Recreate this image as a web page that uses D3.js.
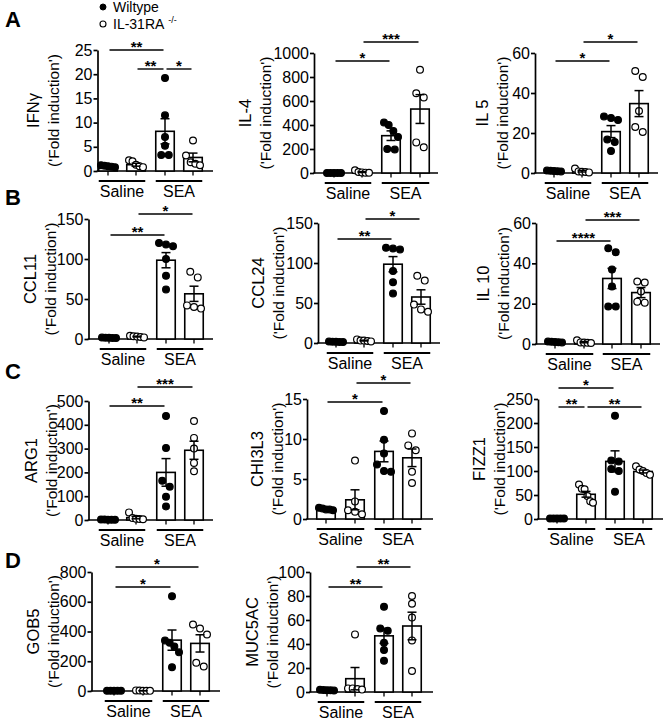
<!DOCTYPE html>
<html><head><meta charset="utf-8">
<script src="https://cdn.jsdelivr.net/npm/d3@7"></script>
<style>body{margin:0;background:#fff} text{font-family:"Liberation Sans",Arial,sans-serif;fill:#000}</style>
</head><body><svg id="c" width="667" height="720"></svg>
<script>
// ---------- DATA ----------
const groups = ["Saline", "SEA"];
const series = ["Wiltype", "IL-31RA"];
const yUnit = "('Fold induction')";

const IFNG_points = [[1.0,1.2,0.9,1.1,0.8],[2.2,2.0,1.3,0.8,1.0],[19.2,11.5,7.0,5.2,3.3,3.3],[6.3,3.2,1.8,1.5,1.2]];
const IFNG_mean = [1.0, 1.3, 8.2, 2.8];
const IFNG_sem = [0.1, 0.3, 2.6, 0.9];
const IFNG_ticks = [0,5,10,15,20,25];
const IFNG_sig = [[0,2,"**"],[1,2,"**"],[2,3,"*"]];

const IL4_points = [[1,1,1,1,1],[3,5,22,8,2],[420,400,350,300,200,195],[860,665,630,255,215]];
const IL4_mean = [1, 8, 311, 533];
const IL4_sem = [0.2, 4, 40, 120];
const IL4_ticks = [0,200,400,600,800,1000];
const IL4_sig = [[0,2,"*"],[1,3,"***"]];

const IL5_points = [[0.8,1,1.2,0.9,1.1],[2.2,0.5,0.6,0.3,0.8],[28.3,27.5,26.5,16.7,15.5,11],[51,48,31,23,20.5]];
const IL5_mean = [1, 0.9, 20.7, 34.7];
const IL5_sem = [0.1, 0.4, 3, 6.5];
const IL5_ticks = [0,20,40,60];
const IL5_sig = [[0,2,"*"],[1,3,"*"]];

const CCL11_points = [[1.5,1.8,1.2,1.6,1.4],[3,4,2.5,2,3.5],[120,118,116,100,79,62],[84,77,42,40,38]];
const CCL11_mean = [1.5, 3, 98.5, 56.5];
const CCL11_sem = [0.2, 0.5, 9.5, 9.5];
const CCL11_ticks = [0,50,100,150];
const CCL11_sig = [[0,2,"**"],[1,3,"*"]];

const CCL24_points = [[1.5,1.8,1.2,1.6,1.4],[3,4.5,2.5,2,3],[119,118,117,90,76,62],[84,78,48,42,39]];
const CCL24_mean = [1.5, 3, 98.5, 57.5];
const CCL24_sem = [0.2, 0.5, 9.5, 9];
const CCL24_ticks = [0,50,100,150];
const CCL24_sig = [[0,2,"**"],[1,3,"*"]];

const IL10_points = [[1,1.2,0.8,1.1,0.9],[1.8,0.8,0.5,0.6,0.7],[47.5,45.5,37,28.5,18.6,18.6],[31,30.5,26,21,20.5]];
const IL10_mean = [1, 0.9, 32.5, 25.5];
const IL10_sem = [0.1, 0.3, 5, 2.5];
const IL10_ticks = [0,20,40,60];
const IL10_sig = [[0,2,"****"],[1,3,"***"]];

const ARG1_points = [[1,2,1,2,1],[32,8,5,4,3],[437,303,165,140,98,57],[416,345,300,240,205]];
const ARG1_mean = [1.5, 10, 200, 293];
const ARG1_sem = [0.3, 5, 58, 38];
const ARG1_ticks = [0,100,200,300,400,500];
const ARG1_sig = [[0,2,"**"],[1,3,"***"]];

const CHI3L3_points = [[1.4,1.2,1.3,1.1,1.2],[7.3,2.2,1.1,0.6,0.9],[13.5,9.9,8.2,6.8,6.0,5.9],[10.7,9.2,8.6,5.9,4.5]];
const CHI3L3_mean = [1.25, 2.4, 8.45, 7.65];
const CHI3L3_sem = [0.06, 1.25, 1.3, 1.1];
const CHI3L3_ticks = [0,5,10,15];
const CHI3L3_sig = [[0,2,"*"],[1,3,"*"]];

const FIZZ1_points = [[1,1,1,1,1],[72,63,62,48,37,34],[215,122,120,104,100,57],[110,103,100,96,92]];
const FIZZ1_mean = [1, 51.5, 120, 99];
const FIZZ1_sem = [0.1, 6, 22, 3];
const FIZZ1_ticks = [0,50,100,150,200,250];
const FIZZ1_sig = [[0,2,"*"],[0,1,"**"],[1,3,"**"]];

const GOB5_points = [[1,1,1,1,1],[2,4,1,3,2],[637,340,325,300,260,160],[447,420,380,190,165]];
const GOB5_mean = [1, 2, 342, 320];
const GOB5_sem = [0.1, 0.5, 68, 58];
const GOB5_ticks = [0,200,400,600,800];
const GOB5_sig = [[0,3,"*"],[0,2,"*"]];

const MUC5AC_points = [[1.5,1.8,1.2,1.4,1.6],[48,3,2.5,2,3],[71,53,51,41,35,26],[80,73.6,62,43,17.5]];
const MUC5AC_mean = [1.5, 11.1, 46.8, 55];
const MUC5AC_sem = [0.1, 9.3, 6.3, 11.5];
const MUC5AC_ticks = [0,20,40,60,80,100];
const MUC5AC_sig = [[0,2,"**"],[1,3,"**"]];

// ---------- LAYOUT ----------
const panels = [
 {name:"IFNγ", pts:IFNG_points, mean:IFNG_mean, sem:IFNG_sem, ticks:IFNG_ticks, sig:IFNG_sig,
  ax:97.5, top:50, bot:171, xEnd:213, bars:[108,136,165,193], nameX:33, foldX:53, sigY:[50,69,69]},
 {name:"IL-4", pts:IL4_points, mean:IL4_mean, sem:IL4_sem, ticks:IL4_ticks, sig:IL4_sig,
  ax:314, top:53, bot:173, xEnd:438, bars:[334,362,391,420], nameX:245, foldX:265, sigY:[61,42]},
 {name:"IL 5", pts:IL5_points, mean:IL5_mean, sem:IL5_sem, ticks:IL5_ticks, sig:IL5_sig,
  ax:535, top:53, bot:173, xEnd:658, bars:[554,582,611,639], nameX:482, foldX:502, sigY:[61,42]},
 {name:"CCL11", pts:CCL11_points, mean:CCL11_mean, sem:CCL11_sem, ticks:CCL11_ticks, sig:CCL11_sig,
  ax:88.5, top:219, bot:339, xEnd:213, bars:[109,137,166,194], nameX:30, foldX:50, sigY:[235,214]},
 {name:"CCL24", pts:CCL24_points, mean:CCL24_mean, sem:CCL24_sem, ticks:CCL24_ticks, sig:CCL24_sig,
  ax:318, top:223, bot:343, xEnd:440, bars:[336,364,393,421], nameX:258, foldX:278, sigY:[239,219]},
 {name:"IL 10", pts:IL10_points, mean:IL10_mean, sem:IL10_sem, ticks:IL10_ticks, sig:IL10_sig,
  ax:536, top:223, bot:344, xEnd:660, bars:[555,584,612,641], nameX:483, foldX:503, sigY:[241,220]},
 {name:"ARG1", pts:ARG1_points, mean:ARG1_mean, sem:ARG1_sem, ticks:ARG1_ticks, sig:ARG1_sig,
  ax:88.5, top:401, bot:520, xEnd:213, bars:[108,136,166,194], nameX:31, foldX:51, sigY:[406,387]},
 {name:"CHI3L3", pts:CHI3L3_points, mean:CHI3L3_mean, sem:CHI3L3_sem, ticks:CHI3L3_ticks, sig:CHI3L3_sig,
  ax:307, top:399, bot:519, xEnd:433, bars:[326,355,384,412], nameX:257, foldX:277, sigY:[402,383]},
 {name:"FIZZ1", pts:FIZZ1_points, mean:FIZZ1_mean, sem:FIZZ1_sem, ticks:FIZZ1_ticks, sig:FIZZ1_sig,
  ax:538, top:399, bot:519, xEnd:663, bars:[557,586,615,643], nameX:479, foldX:499, sigY:[388,407,407]},
 {name:"GOB5", pts:GOB5_points, mean:GOB5_mean, sem:GOB5_sem, ticks:GOB5_ticks, sig:GOB5_sig,
  ax:91.5, top:572, bot:691, xEnd:220, bars:[114,143,172,200], nameX:33, foldX:53, sigY:[567,587]},
 {name:"MUC5AC", pts:MUC5AC_points, mean:MUC5AC_mean, sem:MUC5AC_sem, ticks:MUC5AC_ticks, sig:MUC5AC_sig,
  ax:310, top:572, bot:692, xEnd:433, bars:[327,355,384,412], nameX:252, foldX:272, sigY:[587,567]}
];
const letters = [["A",13,27],["B",13,205],["C",13,379],["D",13,568]];

const svg = d3.select("#c");
const BW = 18.5, R = 3.4;

panels.forEach(p => {
  const g = svg.append("g");
  const y = d3.scaleLinear().domain([0, d3.max(p.ticks)]).range([p.bot, p.top]);
  const x = d3.scaleOrdinal().domain([0,1,2,3]).range(p.bars);

  // y axis
  const ya = g.append("g").attr("transform", `translate(${p.ax},0)`)
    .call(d3.axisLeft(y).tickValues(p.ticks).tickFormat(d3.format("d")).tickSize(4).tickPadding(1).tickSizeOuter(0));
  ya.attr("font-size",null).attr("font-family",null);
  ya.select(".domain").attr("stroke","#000").attr("stroke-width",1.7);
  ya.selectAll(".tick line").attr("stroke","#000").attr("stroke-width",1.7);
  ya.selectAll(".tick text").style("font-size","16px").style("font-family","Liberation Sans, Arial, sans-serif").attr("fill","#000");

  // x axis line & ticks
  g.append("line").attr("x1",p.ax-0.8).attr("x2",p.xEnd).attr("y1",p.bot).attr("y2",p.bot)
    .attr("stroke","#000").attr("stroke-width",1.7);
  g.selectAll(".xt").data([0,1,2,3]).join("line")
    .attr("x1",d=>x(d)).attr("x2",d=>x(d)).attr("y1",p.bot).attr("y2",p.bot+4.5)
    .attr("stroke","#000").attr("stroke-width",1.3);

  // bars
  g.selectAll(".bar").data(p.mean).join("rect")
    .attr("x",(d,i)=>x(i)-BW/2).attr("width",BW)
    .attr("y",d=>y(d)).attr("height",d=>Math.max(0,p.bot-y(d)))
    .attr("fill","#fff").attr("stroke","#000").attr("stroke-width",1.6);

  // points (simple swarm)
  p.pts.forEach((arr, gi) => {
    const sorted = arr.map(v=>({v, py:y(v)})).sort((a,b)=>a.py-b.py);
    const clusters = [];
    sorted.forEach(o => {
      const last = clusters[clusters.length-1];
      if (last && o.py - last[last.length-1].py < 2*R) last.push(o); else clusters.push([o]);
    });
    clusters.forEach(cl => {
      const n = cl.length;
      const step = n>1 ? Math.min(7.5, 14/(n-1)) : 0;
      cl.forEach((o,k) => { o.px = x(gi) + (k-(n-1)/2)*step; });
    });
    g.selectAll(null).data(sorted).join("circle")
      .attr("cx",o=>o.px).attr("cy",o=>o.py).attr("r",R)
      .attr("fill", gi%2===0 ? "#000" : "#fff")
      .attr("stroke","#000").attr("stroke-width",1.2);
  });

  // error bars
  p.mean.forEach((m,i) => {
    const cx = x(i), t = y(m+p.sem[i]), b = y(Math.max(0,m-p.sem[i]));
    g.append("line").attr("x1",cx).attr("x2",cx).attr("y1",t).attr("y2",b).attr("stroke","#000").attr("stroke-width",1.5);
    [t,b].forEach(yy => g.append("line").attr("x1",cx-4.5).attr("x2",cx+4.5).attr("y1",yy).attr("y2",yy).attr("stroke","#000").attr("stroke-width",1.5));
  });

  // significance
  p.sig.forEach((s,k) => {
    const x1 = x(s[0])+1.5, x2 = x(s[1])-1.5, yy = p.sigY[k];
    g.append("line").attr("x1",x1).attr("x2",x2).attr("y1",yy).attr("y2",yy).attr("stroke","#000").attr("stroke-width",1.4);
    g.append("text").attr("x",(x1+x2)/2).attr("y",yy+1.5).attr("text-anchor","middle").attr("font-size",15).attr("font-weight","bold").text(s[2]);
  });

  // group lines & labels
  groups.forEach((gn, gi) => {
    const a = x(gi*2)-BW/2, b = x(gi*2+1)+BW/2;
    g.append("line").attr("x1",a).attr("x2",b).attr("y1",p.bot+10).attr("y2",p.bot+10).attr("stroke","#000").attr("stroke-width",2.2);
    g.append("text").attr("x",(a+b)/2).attr("y",p.bot+25.5).attr("text-anchor","middle").attr("font-size",16).text(gn);
  });

  // y labels
  const my = (p.top+p.bot)/2;
  g.append("text").attr("transform",`translate(${p.nameX},${my}) rotate(-90)`).attr("text-anchor","middle")
    .attr("dominant-baseline","central").attr("font-size",16.5).text(p.name);
  g.append("text").attr("transform",`translate(${p.foldX},${my}) rotate(-90)`).attr("text-anchor","middle")
    .attr("dominant-baseline","central").attr("font-size",15.5).text(yUnit);
});

// panel letters
letters.forEach(l => svg.append("text").attr("x",l[1]).attr("y",l[2]).attr("text-anchor","middle")
  .attr("font-size",22).attr("font-weight","bold").text(l[0]));

// legend
const lg = svg.append("g");
lg.append("circle").attr("cx",103).attr("cy",7).attr("r",3).attr("fill","#000").attr("stroke","#000");
lg.append("text").attr("x",113).attr("y",12).attr("font-size",14).text(series[0]);
lg.append("circle").attr("cx",103).attr("cy",24).attr("r",3).attr("fill","#fff").attr("stroke","#000").attr("stroke-width",1.1);
const t2 = lg.append("text").attr("x",113).attr("y",29).attr("font-size",14).text(series[1]);
t2.append("tspan").attr("dx",4).attr("dy",-6).attr("font-size",9).text("-/-");
</script></body></html>
